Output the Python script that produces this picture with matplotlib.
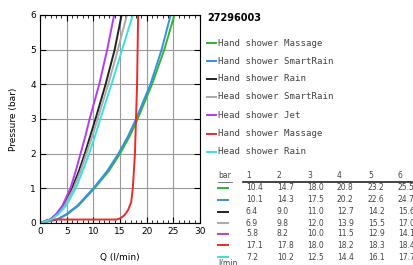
# Pressure / flow chart for 27296003
import matplotlib
matplotlib.use('Agg')
import matplotlib.pyplot as plt
from matplotlib.lines import Line2D

W, H = 414, 265

# curves as drawn in the picture (Q in l/min at each pressure)
pressure = [0, 0.1, 0.25, 0.5, 1, 1.5, 2, 2.5, 3, 4, 5, 6]
q_hand_massage = [0, 3.2, 5.1, 7.2, 10.2, 12.9, 15.0, 16.8, 18.3, 21.0, 23.3, 25.2]
q_hand_smartrain = [0, 3.2, 4.9, 7.0, 10.0, 12.6, 14.7, 16.5, 18.0, 20.7, 22.8, 24.5]
q_hand_rain = [0, 1.9, 3.1, 4.4, 6.0, 7.3, 8.4, 9.4, 10.4, 12.3, 14.0, 15.3]
q_head_smartrain = [0, 2.0, 3.2, 4.6, 6.3, 7.6, 8.7, 9.8, 10.8, 12.8, 14.6, 16.3]
q_head_jet = [0, 1.9, 3.0, 4.2, 5.7, 6.7, 7.6, 8.5, 9.3, 11.1, 12.6, 13.9]
q_head_rain = [0, 2.1, 3.4, 4.9, 6.7, 8.0, 9.2, 10.3, 11.3, 13.4, 15.4, 17.4]

# thermostatic massage curve has its own shape
red_p = [0, 0.09, 0.1, 0.1, 0.13, 0.22, 0.37, 0.6, 1, 2, 3, 4, 5, 6]
red_q = [0, 1.5, 3.0, 14.3, 15.0, 15.8, 16.5, 17.1, 17.4, 17.8, 18.0, 18.2, 18.3, 18.4]

names = ['Hand shower Massage', 'Hand shower SmartRain', 'Hand shower Rain',
         'Head shower SmartRain', 'Head shower Jet', 'Hand shower Massage',
         'Head shower Rain']
colors = ['#2db82d', '#3a8ee6', '#222222', '#aaaaaa', '#b43cf0', '#f02828', '#3ce0e0']

table_bar = [1, 2, 3, 4, 5, 6]
table = [
    [10.4, 14.7, 18.0, 20.8, 23.2, 25.5],
    [10.1, 14.3, 17.5, 20.2, 22.6, 24.7],
    [6.4, 9.0, 11.0, 12.7, 14.2, 15.6],
    [6.9, 9.8, 12.0, 13.9, 15.5, 17.0],
    [5.8, 8.2, 10.0, 11.5, 12.9, 14.1],
    [17.1, 17.8, 18.0, 18.2, 18.3, 18.4],
    [7.2, 10.2, 12.5, 14.4, 16.1, 17.7],
]


def px(x, y):
    return x / W, 1 - y / H


fig = plt.figure(figsize=(W / 100, H / 100), dpi=100)
ax = fig.add_axes([40 / W, 1 - 223 / H, 160 / W, 208 / H])

series = [(q_hand_massage, pressure), (q_hand_smartrain, pressure),
          (q_hand_rain, pressure), (q_head_smartrain, pressure),
          (q_head_jet, pressure), (red_q, red_p), (q_head_rain, pressure)]
for (q, p), c in zip(series, colors):
    ax.plot(q, p, color=c, lw=1.4, solid_capstyle='round', solid_joinstyle='round')

ax.set_xlim(0, 30)
ax.set_ylim(0, 6)
ax.set_xticks(range(0, 31, 5))
ax.set_xticks(range(0, 31), minor=True)
ax.set_yticks(range(0, 7))
ax.grid(True, color='#999999', lw=0.8)
ax.tick_params(which='both', direction='in', top=True, right=True,
               labelsize=6.5, colors='black', pad=3)
ax.tick_params(which='major', length=4, width=0.8)
ax.tick_params(which='minor', length=2.5, width=0.6)
ax.tick_params(axis='y', which='minor', left=False, right=False)
for s in ax.spines.values():
    s.set_linewidth(0.8)
ax.set_xlabel('Q (l/min)', fontsize=6.5, labelpad=12)
ax.set_ylabel('Pressure (bar)', fontsize=6.5, labelpad=9)

# legend
fig.text(*px(207, 18), '27296003', fontsize=7, fontweight='bold', va='center')
leg_y = [43, 61, 79, 97, 115, 134, 152]
for y, c, n in zip(leg_y, colors, names):
    fig.add_artist(Line2D([207 / W, 216 / W], [1 - y / H] * 2, color=c, lw=1.4))
    fig.text(*px(218, y), n, fontsize=6.6, family='DejaVu Sans Mono',
             color='#444444', va='center')

# table
col_x = [246, 277, 307, 337, 368, 398]
fig.text(*px(218, 176), 'bar', fontsize=5.5, color='#444444', va='center')
for x, b in zip(col_x, table_bar):
    fig.text(*px(x, 176), str(b), fontsize=5.5, color='#444444', va='center')
fig.add_artist(Line2D([218 / W, 232 / W], [1 - 181.5 / H] * 2, color='#444444', lw=0.5))
fig.add_artist(Line2D([243 / W, 1.0], [1 - 182 / H] * 2, color='#222222', lw=1.2))
row_y = [188, 200, 212, 223, 234, 245, 257]
for y, c, row in zip(row_y, colors, table):
    fig.add_artist(Line2D([218 / W, 228 / W], [1 - y / H] * 2, color=c, lw=1.4))
    for x, v in zip(col_x, row):
        fig.text(*px(x, y), f'{v:.1f}', fontsize=5.5, color='#444444', va='center')
fig.text(*px(218, 258), 'l/min', fontsize=5.5, color='#444444', va='top')

fig.savefig('out.png', dpi=100)
